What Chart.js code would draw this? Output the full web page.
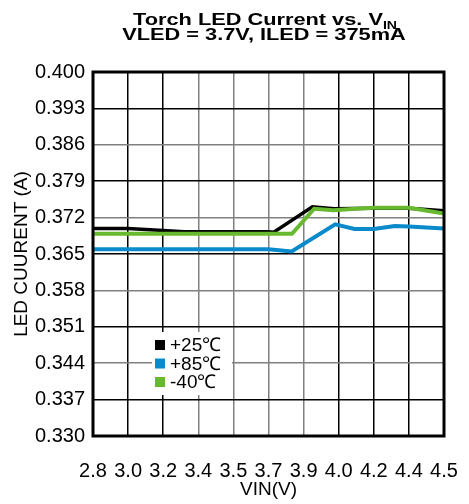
<!DOCTYPE html>
<html>
<head>
<meta charset="utf-8">
<script src="https://cdn.jsdelivr.net/npm/chart.js@4.4.0/dist/chart.umd.min.js"></script>
<style>
  html, body { margin: 0; padding: 0; background: #fff; }
</style>
</head>
<body>
<canvas id="myChart" width="469" height="504"></canvas>
<script>
var xLabels = ['2.8', '3.0', '3.2', '3.4', '3.5', '3.7', '3.9', '4.0', '4.2', '4.4', '4.5'];
var yTicks = [0.330, 0.337, 0.344, 0.351, 0.358, 0.365, 0.372, 0.379, 0.386, 0.393, 0.400];
var seriesNames = ['+25\u2103', '+85\u2103', '-40\u2103'];
var colors = ['#000000', '#0a8acb', '#67b92f'];

// x is given in label slots (0 = first label "2.8", 10 = last label "4.5")
var x25 = [0, 1, 2, 2.6, 5, 5.15, 6.25, 6.87, 8, 9, 10];
var y25 = [0.3699, 0.3699, 0.3695, 0.3693, 0.3693, 0.3692, 0.3741, 0.3737, 0.3738, 0.3738, 0.3733];
var x85 = [0, 5, 5.66, 6.9, 7.45, 8, 8.6, 9, 10];
var y85 = [0.3659, 0.3659, 0.3655, 0.3707, 0.3698, 0.3698, 0.3704, 0.3703, 0.3699];
var xm40 = [0, 5.67, 6.3, 6.85, 7.5, 8, 9, 10];
var ym40 = [0.3689, 0.3689, 0.3737, 0.3734, 0.3737, 0.3739, 0.3739, 0.3728];

var FONT = "'Liberation Sans', Arial, sans-serif";

function pts(xs, ys) {
  var out = [];
  for (var i = 0; i < xs.length; i++) out.push({ x: xs[i], y: ys[i] });
  return out;
}

var framePlugin = {
  id: 'frame',
  beforeDatasetsDraw: function(chart) {
    // legend box sits inside the plot, over the grid
    var ctx = chart.ctx;
    ctx.save();
    ctx.fillStyle = '#fff';
    ctx.fillRect(152, 332, 80, 63);
    var rows = [345, 363.5, 382];
    ctx.font = '19px ' + FONT;
    ctx.textBaseline = 'middle';
    for (var i = 0; i < seriesNames.length; i++) {
      ctx.fillStyle = colors[i];
      ctx.fillRect(155, rows[i] - 5, 10, 10);
      ctx.fillStyle = '#000';
      ctx.fillText(seriesNames[i], 170, rows[i] + 1);
    }
    ctx.restore();
  },
  afterDatasetsDraw: function(chart) {
    var a = chart.chartArea, ctx = chart.ctx;
    ctx.save();
    ctx.strokeStyle = '#000';
    ctx.lineWidth = 3;
    ctx.strokeRect(a.left, a.top, a.right - a.left, a.bottom - a.top);
    ctx.restore();
  },
  afterDraw: function(chart) {
    var ctx = chart.ctx;
    function line(main, sub, cx, baseY) {
      ctx.save();
      ctx.translate(cx, baseY);
      ctx.scale(1.28, 1);
      ctx.font = 'bold 17px ' + FONT;
      var w1 = ctx.measureText(main).width;
      ctx.font = 'bold 11px ' + FONT;
      var w2 = sub ? ctx.measureText(sub).width : 0;
      var start = -(w1 + w2) / 2;
      ctx.fillStyle = '#000';
      ctx.font = 'bold 17px ' + FONT;
      ctx.fillText(main, start, 0);
      if (sub) {
        ctx.font = 'bold 11px ' + FONT;
        ctx.fillText(sub, start + w1, 4);
      }
      ctx.restore();
    }
    line('Torch LED Current vs. V', 'IN', 265, 24.5);
    line('VLED = 3.7V, ILED = 375mA', '', 264, 40);
  }
};

function gridColorX(c) {
  return (c.index >= 3 && c.index <= 6) ? '#808080' : '#000';
}
function gridColorY(c) {
  return (c.index % 2 === 0) ? '#808080' : '#000';
}

new Chart(document.getElementById('myChart'), {
  type: 'line',
  data: {
    datasets: [
      { label: seriesNames[0], data: pts(x25, y25), borderColor: colors[0], borderWidth: 3.5, order: 3 },
      { label: seriesNames[1], data: pts(x85, y85), borderColor: colors[1], borderWidth: 4, order: 2 },
      { label: seriesNames[2], data: pts(xm40, ym40), borderColor: colors[2], borderWidth: 4, order: 1 }
    ]
  },
  options: {
    responsive: false,
    animation: false,
    devicePixelRatio: 1,
    layout: { padding: { top: 72, right: 25, left: 0, bottom: 0 } },
    elements: { point: { radius: 0 }, line: { tension: 0, fill: false } },
    plugins: { legend: { display: false }, title: { display: false }, tooltip: { enabled: false } },
    scales: {
      x: {
        type: 'linear',
        min: 0,
        max: 10,
        afterBuildTicks: function(s) { s.ticks = xLabels.map(function(l, i) { return { value: i }; }); },
        afterFit: function(s) { s.height = 68; s.paddingLeft = 0; s.paddingRight = 0; },
        border: { display: false },
        grid: { color: gridColorX, lineWidth: 1.5, drawTicks: false },
        ticks: {
          padding: 23,
          color: '#000',
          maxRotation: 0,
          autoSkip: false,
          font: { family: FONT, size: 20 },
          callback: function(v) { return xLabels[v]; }
        },
        title: { display: true, text: 'VIN(V)', color: '#000', font: { family: FONT, size: 19 }, padding: { top: 4, bottom: 3 } }
      },
      y: {
        min: 0.330,
        max: 0.400,
        afterBuildTicks: function(s) { s.ticks = yTicks.map(function(v) { return { value: v }; }); },
        afterFit: function(s) { s.width = 93; s.paddingTop = 0; s.paddingBottom = 0; },
        border: { display: false },
        grid: { color: gridColorY, lineWidth: 1.5, drawTicks: false },
        ticks: {
          padding: 8,
          color: '#000',
          autoSkip: false,
          font: { family: FONT, size: 20 },
          callback: function(v) { return Number(v).toFixed(3); }
        },
        title: { display: true, text: 'LED CUURENT (A)', color: '#000', font: { family: FONT, size: 19 }, padding: { top: 10, bottom: 0 } }
      }
    }
  },
  plugins: [framePlugin]
});
</script>
</body>
</html>
